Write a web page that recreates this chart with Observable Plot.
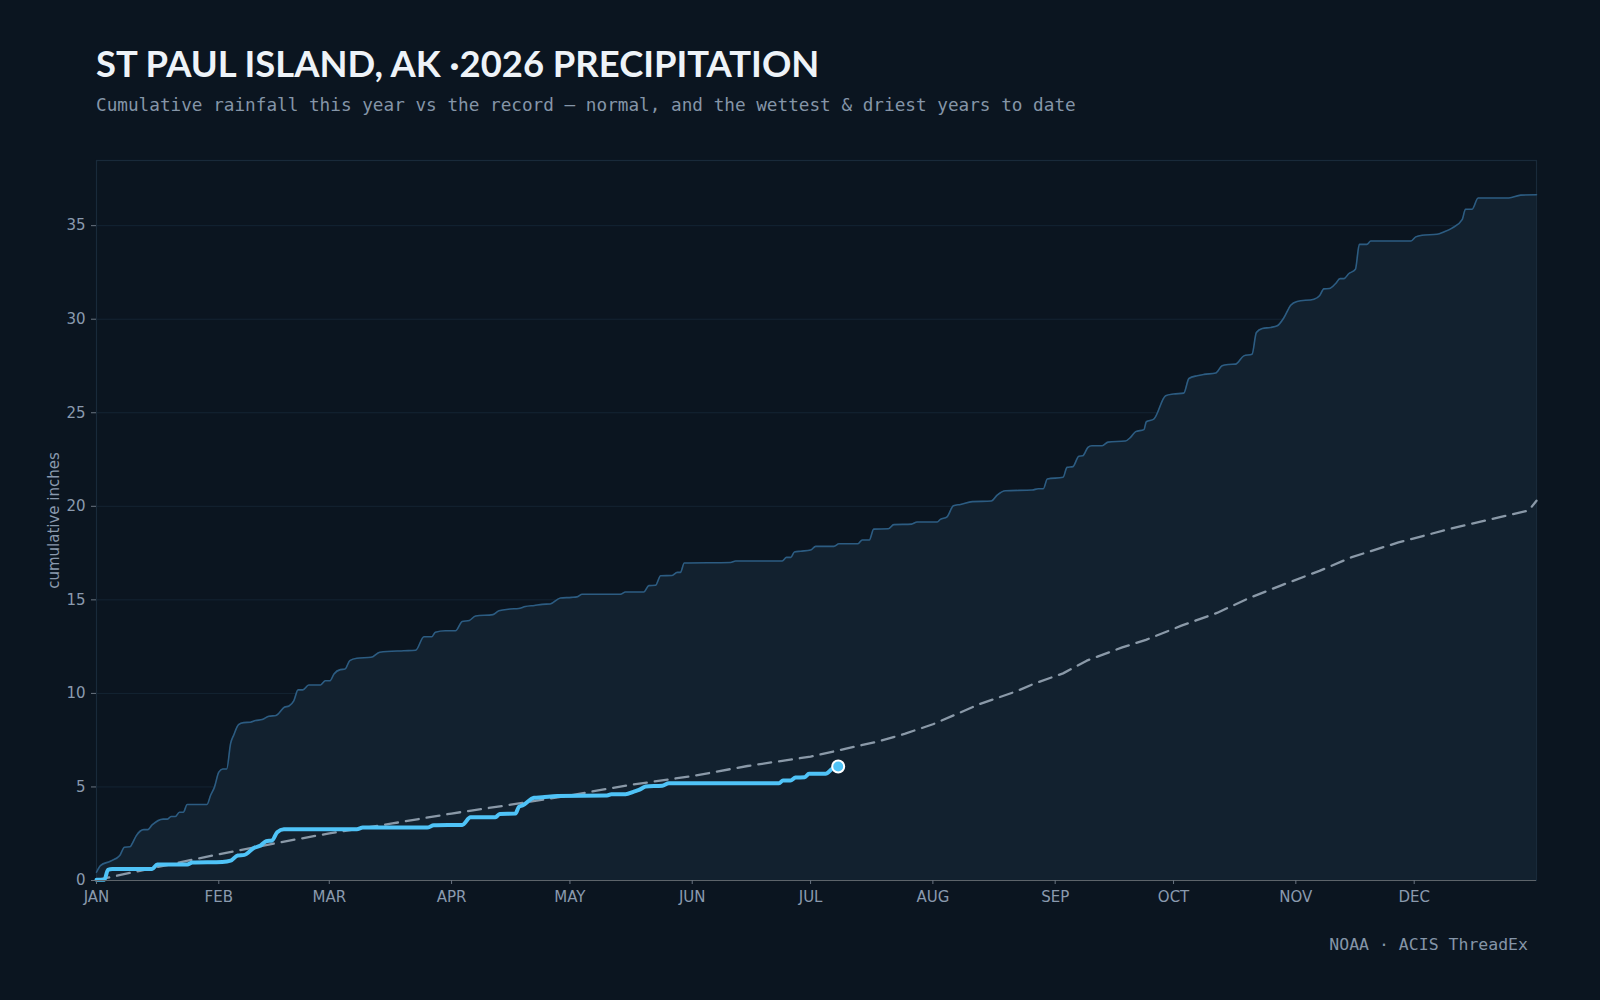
<!DOCTYPE html>
<html>
<head>
<meta charset="utf-8">
<script src="https://cdn.jsdelivr.net/npm/d3@7"></script>
<script src="https://cdn.jsdelivr.net/npm/@observablehq/plot@0.6"></script>
<style>
  html, body { margin: 0; padding: 0; background: #0b1520; }
  #page { position: relative; width: 1600px; height: 1000px; overflow: hidden; background: #0b1520; }
  #title { position: absolute; left: 96px; top: 39px; margin: 0; font-family: Lato, "Noto Sans", sans-serif; font-weight: 700;
           font-size: 36.4px; line-height: 48px; color: #eef3f8; white-space: nowrap; }
  #subtitle { position: absolute; left: 96px; top: 93px; margin: 0; font-family: "DejaVu Sans Mono", monospace; font-size: 17.7px;
              line-height: 24px; color: #8595a8; white-space: nowrap; }
  #chart { position: absolute; left: 0; top: 130px; }
  #caption { position: absolute; right: 72px; top: 933px; font-family: "DejaVu Sans Mono", monospace; font-size: 16.5px;
             line-height: 24px; color: #8595a8; white-space: nowrap; }
</style>
</head>
<body>
<div id="page">
  <h1 id="title">ST PAUL ISLAND, AK ·2026 PRECIPITATION</h1>
  <p id="subtitle">Cumulative rainfall this year vs the record — normal, and the wettest &amp; driest years to date</p>
  <div id="chart"></div>
  <div id="caption">NOAA · ACIS ThreadEx</div>
</div>
<script>
// Day-of-year offsets (0 = Jan 1) and cumulative inches.
const recordDays = [0, 1, 3.5, 5.9, 7.1, 8.5, 9, 10.1, 12, 13, 14.1, 16.9, 18, 18.9, 20, 21, 22, 23, 28, 28.9, 29.9, 31, 32, 33,
  34, 34.8, 36, 37.3, 39, 40.3, 42, 43.7, 45.5, 47.6, 48.8, 50, 51.1, 52.3, 53.8, 56.8, 58, 59.2, 60.2, 61.8, 63, 64.2, 66,
  69.6, 71.8, 77.9, 80.9, 83, 85, 85.9, 88.4, 91, 92.7, 94.5, 96.1, 100.5, 102, 104.9, 107, 108.7, 111, 113, 115, 117.6,
  120.4, 121.8, 123.1, 132.8, 134.1, 138.7, 140, 141.7, 143, 145.9, 147.2, 148, 149, 160.7, 162, 173.8, 174.9, 176, 176.9,
  178.5, 181, 182.3, 186.9, 188.2, 193, 194.1, 195.9, 197, 200.7, 202.1, 206.6, 208, 213.1, 213.9, 215.6, 217.2, 219, 222,
  226.8, 228.3, 230.4, 237.2, 238.7, 240, 241, 245, 246, 247.5, 249, 250, 251.3, 252.3, 254.9, 256.4, 260.8, 262.1, 263.4,
  265.5, 266.1, 268, 271, 273, 275.6, 276.9, 279, 280.7, 283.7, 285.3, 287, 288.7, 290.8, 292.9, 294, 295.5, 297.6, 299.3,
  301, 302.7, 304.3, 308.6, 310, 311.1, 312.5, 314.1, 315.2, 316.2, 317.4, 319.1, 320.1, 322, 323, 333.2, 334.4, 336, 339.8,
  341.5, 343.6, 346.2, 347, 348.7, 350.2, 358, 361, 365];
const recordInches = [0.44, 0.8, 1.03, 1.34, 1.78, 1.8, 1.95, 2.4, 2.72, 2.72, 2.97, 3.28, 3.28, 3.42, 3.42, 3.65, 3.65, 4.06,
  4.06, 4.54, 4.99, 5.79, 5.96, 5.96, 7.33, 7.78, 8.33, 8.44, 8.46, 8.55, 8.6, 8.78, 8.82, 9.26, 9.33, 9.6, 10.19, 10.19,
  10.45, 10.45, 10.68, 10.68, 11.04, 11.27, 11.3, 11.75, 11.88, 11.93, 12.2, 12.28, 12.31, 13.03, 13.03, 13.27, 13.35, 13.35,
  13.84, 13.9, 14.14, 14.21, 14.42, 14.51, 14.54, 14.64, 14.7, 14.76, 14.78, 15.1, 15.13, 15.16, 15.3, 15.3, 15.42, 15.42,
  15.76, 15.78, 16.29, 16.3, 16.47, 16.47, 16.97, 17.0, 17.08, 17.08, 17.27, 17.27, 17.56, 17.6, 17.66, 17.86, 17.86, 18.0,
  18.0, 18.2, 18.2, 18.78, 18.8, 19.02, 19.05, 19.16, 19.16, 19.3, 19.44, 20.03, 20.1, 20.25, 20.28, 20.6, 20.83, 20.87,
  20.94, 20.94, 21.46, 21.55, 22.08, 22.12, 22.68, 22.7, 23.15, 23.24, 23.24, 23.43, 23.49, 23.68, 23.99, 24.1, 24.52, 24.66,
  25.91, 26.0, 26.05, 26.83, 26.98, 27.05, 27.12, 27.51, 27.58, 27.6, 28.04, 28.13, 29.29, 29.5, 29.56, 29.65, 30.09, 30.75,
  30.95, 31.07, 31.25, 31.62, 31.64, 31.91, 32.17, 32.17, 32.43, 32.67, 34.0, 34.0, 34.18, 34.18, 34.4, 34.49, 34.54, 34.66,
  34.87, 35.34, 35.88, 35.88, 36.48, 36.48, 36.63, 36.65];

const normalDays = [0, 15, 31, 45, 59, 75, 90, 105, 120, 135, 151, 165, 181, 190, 198, 205, 212, 224, 233, 238, 245, 251, 260,
  266, 275, 284, 292, 300, 310, 318, 330, 343, 356, 363, 365];
const normalInches = [0.02, 0.7, 1.4, 1.98, 2.52, 3.05, 3.58, 4.05, 4.55, 5.1, 5.58, 6.12, 6.62, 7.05, 7.42, 7.85, 8.35, 9.44,
  10.1, 10.55, 11.07, 11.75, 12.46, 12.86, 13.62, 14.3, 15.08, 15.75, 16.55, 17.27, 18.07, 18.79, 19.44, 19.77, 20.3];

const currentDays = [0, 2, 2.9, 4, 14.1, 15.4, 23, 24.3, 31.9, 34, 35.8, 37.5, 39.9, 41.6, 43, 44.5, 45.8, 47.5, 66, 67.5,
  83.8, 85.5, 92.7, 94.8, 101.1, 102.2, 106.2, 107.1, 108, 110.9, 113, 116.8, 129.4, 130.5, 134.1, 136.2, 137.5, 139.2,
  143.4, 145.1, 173, 174, 175.9, 177.2, 179.5, 180.6, 184.8, 186.5, 188];
const currentInches = [0.04, 0.04, 0.57, 0.62, 0.62, 0.85, 0.85, 0.96, 0.99, 1.06, 1.34, 1.37, 1.74, 1.87, 2.1, 2.14, 2.58,
  2.74, 2.74, 2.83, 2.83, 2.95, 2.97, 3.38, 3.38, 3.56, 3.58, 3.95, 4.01, 4.42, 4.45, 4.52, 4.54, 4.61, 4.61, 4.75, 4.84,
  5.02, 5.07, 5.2, 5.2, 5.34, 5.34, 5.5, 5.52, 5.7, 5.7, 5.97, 6.09];

const yearStart = Date.UTC(2026, 0, 1);
const toDate = (day) => new Date(yearStart + day * 864e5);
const series = (days, inches) => days.map((d, i) => ({date: toDate(d), inches: inches[i]}));

const record = series(recordDays, recordInches);
const normal = series(normalDays, normalInches);
const current = series(currentDays, currentInches);

const xDomain = [new Date(yearStart), new Date(Date.UTC(2027, 0, 1))];
const monthTicks = d3.utcMonth.range(xDomain[0], xDomain[1]);
const yTicks = [0, 5, 10, 15, 20, 25, 30, 35];
const yMax = d3.max(recordInches) * 1.05;
const monthFmt = d3.utcFormat("%b");

const chart = Plot.plot({
  width: 1600,
  height: 790,
  marginLeft: 96,
  marginRight: 64,
  marginTop: 30,
  marginBottom: 40,
  style: {background: "transparent", color: "#8a9aae", fontFamily: "DejaVu Sans, sans-serif", fontSize: "15px"},
  x: {type: "utc", domain: xDomain},
  y: {domain: [0, yMax]},
  marks: [
    Plot.gridY(yTicks, {stroke: "#142433", strokeOpacity: 1, strokeWidth: 1}),
    Plot.areaY(record, {x: "date", y: "inches", fill: "#12212f", curve: "monotone-x"}),
    Plot.frame({stroke: "#192a3a", strokeWidth: 1.2}),
    Plot.lineY(record, {x: "date", y: "inches", stroke: "#2c5c82", strokeWidth: 1.6, curve: "monotone-x"}),
    Plot.lineY(normal, {x: "date", y: "inches", stroke: "#8a99a8", strokeWidth: 2.3, strokeDasharray: "13,8"}),
    Plot.lineY(current, {x: "date", y: "inches", stroke: "#4fc3f7", strokeWidth: 4, strokeLinejoin: "round", curve: "monotone-x"}),
    Plot.dot(current.slice(-1), {x: "date", y: "inches", r: 6, fill: "#4fc3f7", stroke: "#ffffff", strokeWidth: 2}),
    Plot.ruleY([0], {stroke: "#5d646a", strokeWidth: 1.2}),
    Plot.axisX({ticks: monthTicks, tickFormat: (d) => monthFmt(d).toUpperCase(), tickSize: 4, tickPadding: 7,
      stroke: "#6a7480", label: null}),
    Plot.axisY({ticks: yTicks, tickSize: 5, tickPadding: 6, stroke: "#6a7480", label: "cumulative inches",
      labelAnchor: "center", labelArrow: "none", labelOffset: 48, fontSize: 15})
  ]
});

document.getElementById("chart").appendChild(chart);
</script>
</body>
</html>
